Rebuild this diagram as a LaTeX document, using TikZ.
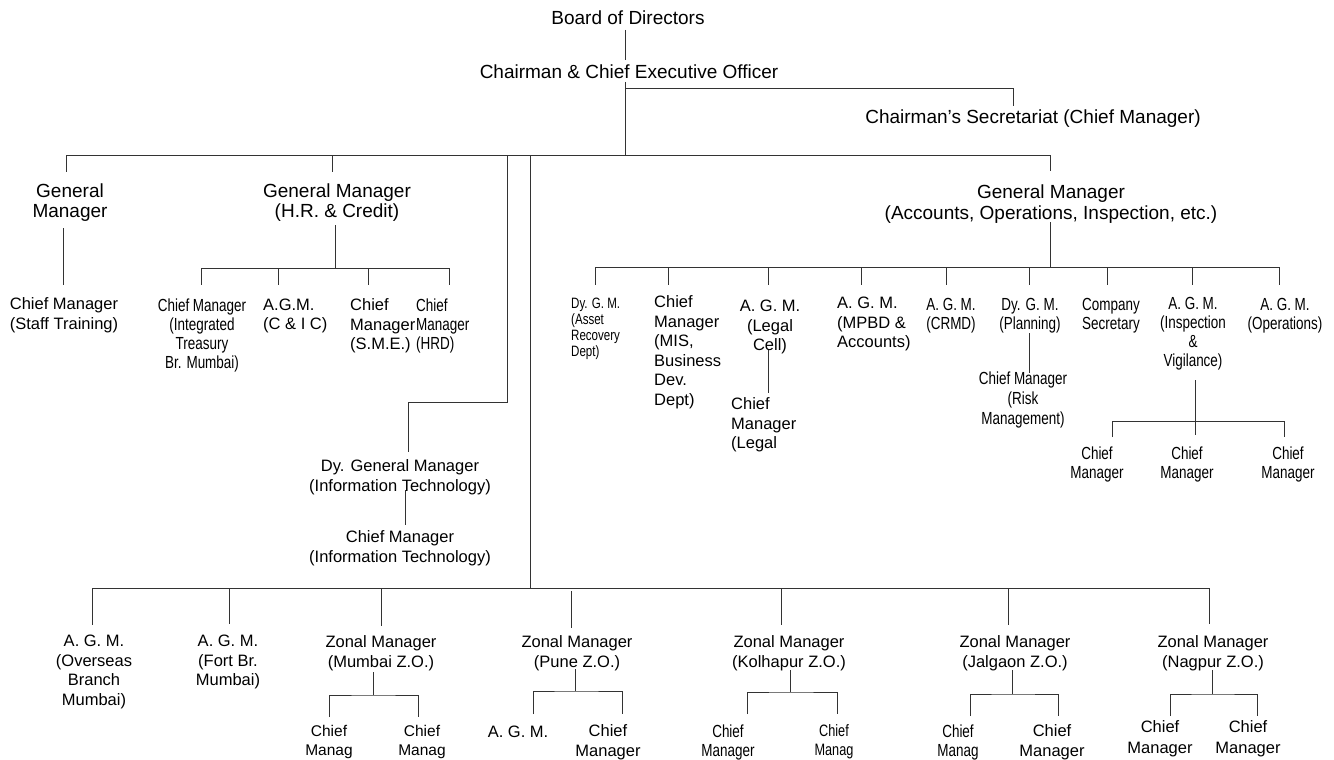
\documentclass[tikz,border=0pt]{standalone}
\usepackage{fontspec}
\setmainfont{Liberation Sans}
\newfontfamily\narrowfont[FakeStretch=0.77]{Liberation Sans}
\begin{document}
\begin{tikzpicture}[x=1pt,y=-1pt,
  lbl/.style={inner sep=0pt, align=center},
  big/.style={lbl, font=\fontsize{19}{20}\selectfont},
  med/.style={lbl, font=\fontsize{16.5}{19.5}\selectfont},
  nar/.style={lbl, font=\narrowfont\fontsize{17.5}{19}\selectfont},
  conn/.style={draw=black!80, line width=1pt}]
\fill[white] (0,0) rectangle (1334,760);
\useasboundingbox (0,0) rectangle (1334,760);

% ---------- top ----------
\node[big] (bod) at (628,18) {Board of Directors};
\node[big] (ceo) at (629,72) {Chairman \& Chief Executive Officer};
\node[big] (sec) at (1033,119) {Chairman’s Secretariat (Chief Manager)};
\node[big] (gm1) at (70,203) {General\\Manager};
\node[big] (gm2) at (337,203) {General Manager\\(H.R. \& Credit)};
\node[big, font=\fontsize{19}{21.5}\selectfont] (gm3) at (1051,204) {General Manager\\(Accounts, Operations, Inspection, etc.)};

% ---------- left ----------
\node[med, font=\fontsize{16.5}{20}\selectfont] (cmst) at (64,315) {Chief Manager\\(Staff Training)};
\node[nar] (cmtr) at (202,335) {Chief Manager\\(Integrated\\Treasury\\Br. Mumbai)};
\node[med, anchor=west, align=left] (agmci) at (263,316) {A.G.M.\\(C \& I C)};
\node[med, anchor=west, align=left] (cmsme) at (350,326) {Chief\\Manager\\(S.M.E.)};
\node[nar, anchor=west, align=left] (cmhrd) at (416,326) {Chief\\Manager\\(HRD)};

\node[med] (dgmit) at (400,477) {Dy. General Manager\\(Information Technology)};
\node[med] (cmit) at (400,548) {Chief Manager\\(Information Technology)};

% ---------- right ----------
\node[nar, font=\narrowfont\fontsize{15}{16}\selectfont, anchor=west, align=left] (dgmar) at (571,329) {Dy. G. M.\\(Asset\\Recovery\\Dept)};
\node[med, anchor=west, align=left] (cmmis) at (654,352) {Chief\\Manager\\(MIS,\\Business\\Dev.\\Dept)};
\node[med] (agmlc) at (770,327) {A. G. M.\\(Legal\\Cell)};
\node[med, anchor=west, align=left] (cmleg) at (731,425) {Chief\\Manager\\(Legal};
\node[med, anchor=west, align=left] (agmmp) at (837,324) {A. G. M.\\(MPBD \&\\Accounts)};
\node[nar] (agmcr) at (951,316) {A. G. M.\\(CRMD)};
\node[nar] (dgmpl) at (1030,316) {Dy. G. M.\\(Planning)};
\node[nar, font=\narrowfont\fontsize{17.5}{20}\selectfont] (cmrisk) at (1023,400) {Chief Manager\\(Risk\\Management)};
\node[nar] (cs) at (1111,316) {Company\\Secretary};
\node[nar] (agmiv) at (1193,334) {A. G. M.\\(Inspection\\\&\\Vigilance)};
\node[nar] (agmop) at (1285,316) {A. G. M.\\(Operations)};
\node[nar] (cmi1) at (1097,464) {Chief\\Manager};
\node[nar] (cmi2) at (1187,464) {Chief\\Manager};
\node[nar] (cmi3) at (1288,464) {Chief\\Manager};

% ---------- bottom ----------
\node[med] (agmov) at (94,672) {A. G. M.\\(Overseas\\Branch\\Mumbai)};
\node[med] (agmft) at (228,662) {A. G. M.\\(Fort Br.\\Mumbai)};
\node[med] (zmmu) at (381,653) {Zonal Manager\\(Mumbai Z.O.)};
\node[med] (zmpu) at (577,653) {Zonal Manager\\(Pune Z.O.)};
\node[med] (zmko) at (789,653) {Zonal Manager\\(Kolhapur Z.O.)};
\node[med] (zmja) at (1015,653) {Zonal Manager\\(Jalgaon Z.O.)};
\node[med] (zmna) at (1213,653) {Zonal Manager\\(Nagpur Z.O.)};

\node[med, font=\fontsize{15.5}{19}\selectfont] (mu1) at (329,742) {Chief\\Manag};
\node[med, font=\fontsize{15.5}{19}\selectfont] (mu2) at (422,742) {Chief\\Manag};
\node[med] (pu1) at (518,732) {A. G. M.};
\node[med] (pu2) at (608,742) {Chief\\Manager};
\node[nar] (ko1) at (728,742) {Chief\\Manager};
\node[nar, font=\narrowfont\fontsize{16.5}{19}\selectfont] (ko2) at (834,742) {Chief\\Manag};
\node[nar] (ja1) at (958,742) {Chief\\Manag};
\node[med] (ja2) at (1052,742) {Chief\\Manager};
\node[med, font=\fontsize{16.5}{21}\selectfont] (na1) at (1160,739) {Chief\\Manager};
\node[med, font=\fontsize{16.5}{21}\selectfont] (na2) at (1248,739) {Chief\\Manager};

% ---------- connector coordinates ----------
\coordinate (bodS) at (625,30);  \coordinate (ceoN) at (625,60);
\coordinate (ceoS) at (625,82);  \coordinate (trunk) at (625,155);
\coordinate (secJ) at (625,89);  \coordinate (secN) at (1013,106);
\coordinate (busL) at (66,155);  \coordinate (busR) at (1050,155);
\coordinate (gm1N) at (66,172);  \coordinate (gm2N) at (332,172);
\coordinate (gm3N) at (1050,171);
\coordinate (itJ) at (507,155);  \coordinate (itN) at (408,452);
\coordinate (itBend) at (507,402);
\coordinate (zJ) at (530,155);   \coordinate (zB) at (530,588);
\coordinate (gm1S) at (63,228);  \coordinate (cmstN) at (63,285);
\coordinate (gm2S) at (335,225); \coordinate (gm2B) at (335,268);
\coordinate (hrL) at (201,268);  \coordinate (hrR) at (449,268);
\coordinate (dgmitS) at (405,490); \coordinate (cmitN) at (405,525);
\coordinate (gm3S) at (1050,222); \coordinate (gm3B) at (1050,267);
\coordinate (rL) at (595,267);   \coordinate (rR) at (1279,267);
\coordinate (lcS) at (768,350);  \coordinate (cmlegN) at (768,393);
\coordinate (plS) at (1029,333); \coordinate (riskN) at (1029,373);
\coordinate (ivS) at (1195,380); \coordinate (ivE) at (1195,435);
\coordinate (ivL) at (1112,421); \coordinate (ivR) at (1284,421);
\coordinate (cmi1N) at (1112,437); \coordinate (cmi3N) at (1284,437);
\coordinate (bL) at (92,588);    \coordinate (bR) at (1209,588);

% ---------- connectors ----------
\draw[conn] (bodS) -- (ceoN);
\draw[conn] (ceoS) -- (trunk);
\draw[conn] (secJ) -| (secN);
\draw[conn] (busL) -- (busR);
\draw[conn] (busL) -- (gm1N);
\draw[conn] (gm2N |- busL) -- (gm2N);
\draw[conn] (busR) -- (gm3N);
\draw[conn] (itJ) -- (itBend) -| (itN);
\draw[conn] (zJ) -- (zB);
\draw[conn] (gm1S) -- (cmstN);
\draw[conn] (gm2S) -- (gm2B);
\draw[conn] (hrL) -- (hrR);
\foreach \x in {201,278,368,449}{
  \coordinate (hd) at (\x,268); \coordinate (ht) at (\x,285);
  \draw[conn] (hd) -- (ht);}
\draw[conn] (dgmitS) -- (cmitN);
\draw[conn] (gm3S) -- (gm3B);
\draw[conn] (rL) -- (rR);
\foreach \x in {595,668,768,861,946,1029,1107,1192,1279}{
  \coordinate (rd) at (\x,267); \coordinate (rt) at (\x,285);
  \draw[conn] (rd) -- (rt);}
\draw[conn] (lcS) -- (cmlegN);
\draw[conn] (plS) -- (riskN);
\draw[conn] (ivS) -- (ivE);
\draw[conn] (cmi1N) |- (ivL) -- (ivR) -- (cmi3N);
\draw[conn] (bL) -- (bR);
\foreach \x/\a/\b in {92/588/625,229/588/624,381/588/626,571/591/628,781/588/625,1008/588/625,1209/588/624}{
  \coordinate (bd) at (\x,\a); \coordinate (bt) at (\x,\b);
  \draw[conn] (bd) -- (bt);}
% zonal sub-trees: x of stem, stem top, bus y, left x, right x, drop end
\foreach \s/\t/\y/\l/\r/\e in {373/672/695/329/418/717, 575/669/691/533/622/714, 790/670/692/747/837/714, 1012/670/694/970/1058/716, 1212/670/694/1170/1257/716}{
  \coordinate (zs) at (\s,\t); \coordinate (zb) at (\s,\y);
  \coordinate (zl) at (\l,\e); \coordinate (zr) at (\r,\e);
  \draw[conn] (zs) -- (zb);
  \draw[conn] (zl) |- (zb) -| (zr);}
\end{tikzpicture}
\end{document}
